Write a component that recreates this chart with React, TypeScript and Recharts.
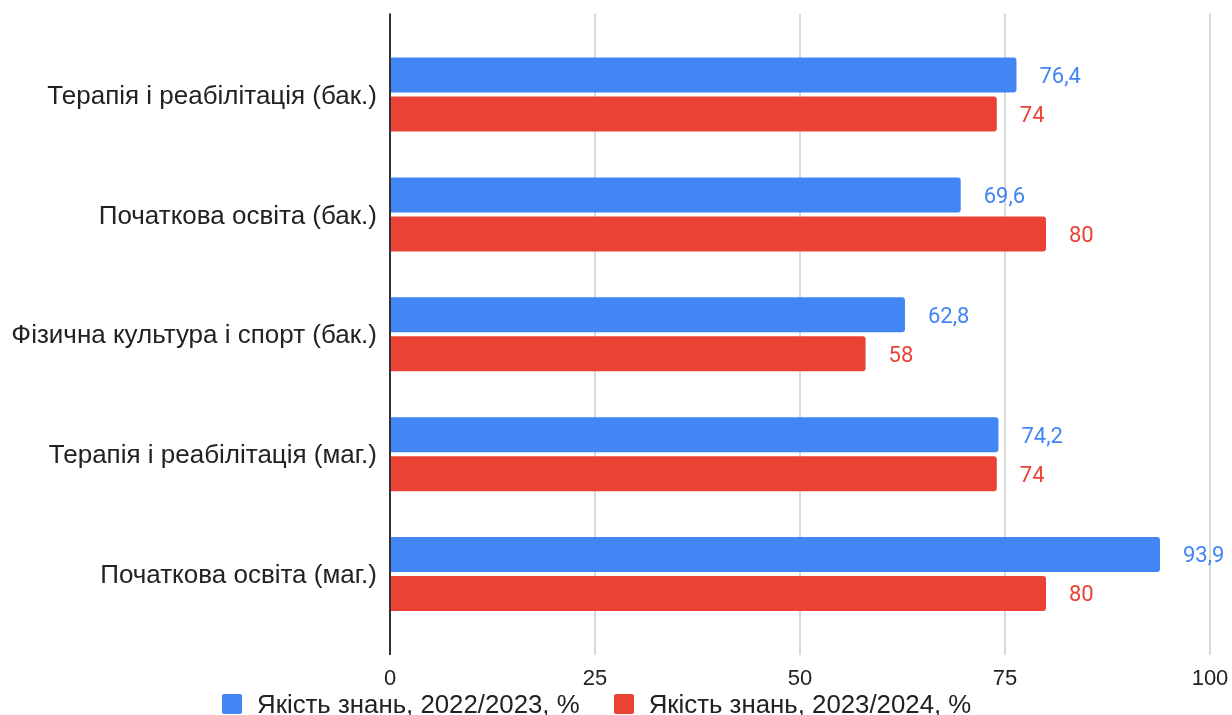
import React from 'react';
import { BarChart, Bar, XAxis, YAxis, CartesianGrid, LabelList, Legend } from 'recharts';

const categories = [
  'Терапія і реабілітація (бак.)',
  'Початкова освіта (бак.)',
  'Фізична культура і спорт (бак.)',
  'Терапія і реабілітація (маг.)',
  'Початкова освіта (маг.)',
];
const series2022 = [76.4, 69.6, 62.8, 74.2, 93.9];
const series2023 = [74, 80, 58, 74, 80];
const xTicks = [0, 25, 50, 75, 100];
const seriesNames = ['Якість знань, 2022/2023, %', 'Якість знань, 2023/2024, %'];
const seriesColors = ['#4285F4', '#EA4335'];

const data = categories.map((c, i) => ({ name: c, a: series2022[i], b: series2023[i] }));

const fmt = (v: any) => String(v).replace('.', ',');

const LegendContent = () => (
  <div style={{ display: 'flex', alignItems: 'flex-start', fontFamily: '"Liberation Sans", Arial, sans-serif', fontSize: 25.8, color: '#222', whiteSpace: 'nowrap', lineHeight: '26px' }}>
    {seriesNames.map((n, i) => (
      <div key={n} style={{ display: 'flex', alignItems: 'flex-start', marginRight: i === 0 ? 34 : 0 }}>
        <div style={{ width: 20, height: 20, background: seriesColors[i], borderRadius: 2, marginRight: 15 }} />
        <span style={{ marginTop: -3 }}>{n}</span>
      </div>
    ))}
  </div>
);

export default function App() {
  return (
    <div style={{ position: 'fixed', top: 8, left: 8, width: 1224, height: 707 }}>
      <BarChart
        width={1224}
        height={707}
        data={data}
        layout="vertical"
        margin={{ top: 5.5, right: 22, bottom: 20, left: 0 }}
        barSize={35}
        barGap={4}
      >
        <CartesianGrid horizontal={false} vertical={true} stroke="#cccccc" strokeWidth={1.5} />
        <XAxis
          type="number"
          domain={[0, 100]}
          ticks={xTicks}
          axisLine={false}
          tickLine={false}
          tickSize={0}
          tickMargin={14}
          height={40}
          interval={0}
          tick={{ fontFamily: '"Liberation Sans", Arial, sans-serif', fontSize: 22, fill: '#222' }}
        />
        <YAxis
          type="category"
          dataKey="name"
          width={382}
          padding={{ top: 21, bottom: 21 }}
          axisLine={{ stroke: '#333', strokeWidth: 2 }}
          tickLine={false}
          tickSize={0}
          tickMargin={13}
          interval={0}
          tick={{ fontFamily: '"Liberation Sans", Arial, sans-serif', fontSize: 26, fill: '#222' }}
        />
        <Legend
          layout="horizontal"
          verticalAlign="middle"
          align="center"
          wrapperStyle={{ top: 686, left: 214, width: 'auto' }}
          content={<LegendContent />}
        />
        <Bar dataKey="a" name={seriesNames[0]} fill={seriesColors[0]} radius={[0, 3, 3, 0]} isAnimationActive={false}>
          <LabelList dataKey="a" position="right" offset={23} formatter={fmt} style={{ fontFamily: 'Roboto, sans-serif', fontSize: 22, fill: seriesColors[0] }} />
        </Bar>
        <Bar dataKey="b" name={seriesNames[1]} fill={seriesColors[1]} radius={[0, 3, 3, 0]} isAnimationActive={false}>
          <LabelList dataKey="b" position="right" offset={23} formatter={fmt} style={{ fontFamily: 'Roboto, sans-serif', fontSize: 22, fill: seriesColors[1] }} />
        </Bar>
      </BarChart>
    </div>
  );
}
